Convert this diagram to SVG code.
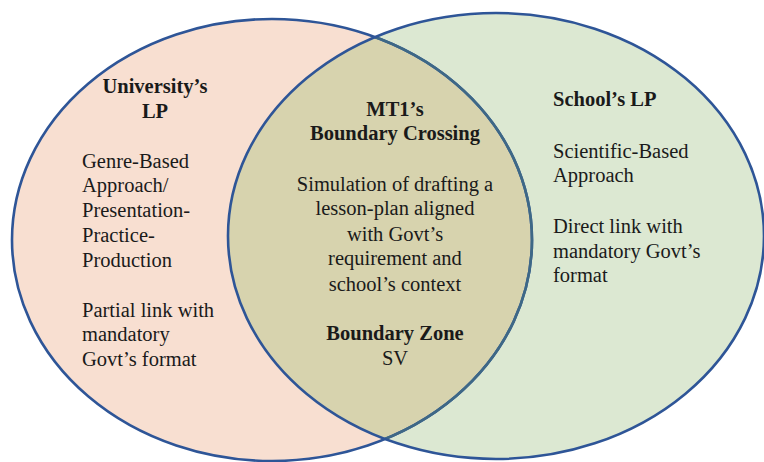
<svg xmlns="http://www.w3.org/2000/svg" width="764" height="462" viewBox="0 0 764 462">
<style>
text{font-family:"Liberation Serif","Tinos","Times New Roman","DejaVu Serif Condensed","DejaVu Serif",serif;font-size:20.5px;fill:#1a1a1a}
.b{font-weight:bold}
.c{text-anchor:middle}
.edge{fill:none;stroke:#2E5597;stroke-width:2.6}
.inner{fill:none;stroke:#3E6886;stroke-width:2.6}
</style>
<defs>
<clipPath id="clipR"><ellipse cx="496" cy="236" rx="268" ry="223"/></clipPath>
</defs>
<rect width="764" height="462" fill="#ffffff"/>
<g id="university">
<ellipse cx="272" cy="240" rx="260" ry="221" fill="#F8DFD1"/>
</g>
<g id="school">
<ellipse cx="496" cy="236" rx="268" ry="223" fill="#DCE8D2"/>
</g>
<g id="overlap">
<ellipse cx="272" cy="240" rx="260" ry="221" fill="#D7D3AE" clip-path="url(#clipR)"/>
</g>
<g id="outlines">
<ellipse class="edge" cx="272" cy="240" rx="260" ry="221"/>
<ellipse class="inner" cx="272" cy="240" rx="260" ry="221" clip-path="url(#clipR)"/>
<ellipse class="edge" cx="496" cy="236" rx="268" ry="223"/>
</g>
<g id="university-text">
<text class="b c" x="155" y="93">University’s</text>
<text class="b c" x="155" y="118">LP</text>
<text x="82" y="168">Genre-Based</text>
<text x="82" y="192">Approach/</text>
<text x="82" y="217">Presentation-</text>
<text x="82" y="242">Practice-</text>
<text x="82" y="267">Production</text>
<text x="82" y="317">Partial link with</text>
<text x="82" y="341">mandatory</text>
<text x="82" y="366">Govt’s format</text>
</g>
<g id="crossing-text">
<text class="b c" x="395" y="116">MT1’s</text>
<text class="b c" x="395" y="140">Boundary Crossing</text>
<text class="c" x="395" y="191">Simulation of drafting a</text>
<text class="c" x="395" y="215">lesson-plan aligned</text>
<text class="c" x="395" y="241">with Govt’s</text>
<text class="c" x="395" y="265">requirement and</text>
<text class="c" x="395" y="291">school’s context</text>
<text class="b c" x="395" y="340">Boundary Zone</text>
<text class="c" x="395" y="365">SV</text>
</g>
<g id="school-text">
<text class="b" x="553" y="106">School’s LP</text>
<text x="553" y="158">Scientific-Based</text>
<text x="553" y="182">Approach</text>
<text x="553" y="233">Direct link with</text>
<text x="553" y="258">mandatory Govt’s</text>
<text x="553" y="282">format</text>
</g>
</svg>
